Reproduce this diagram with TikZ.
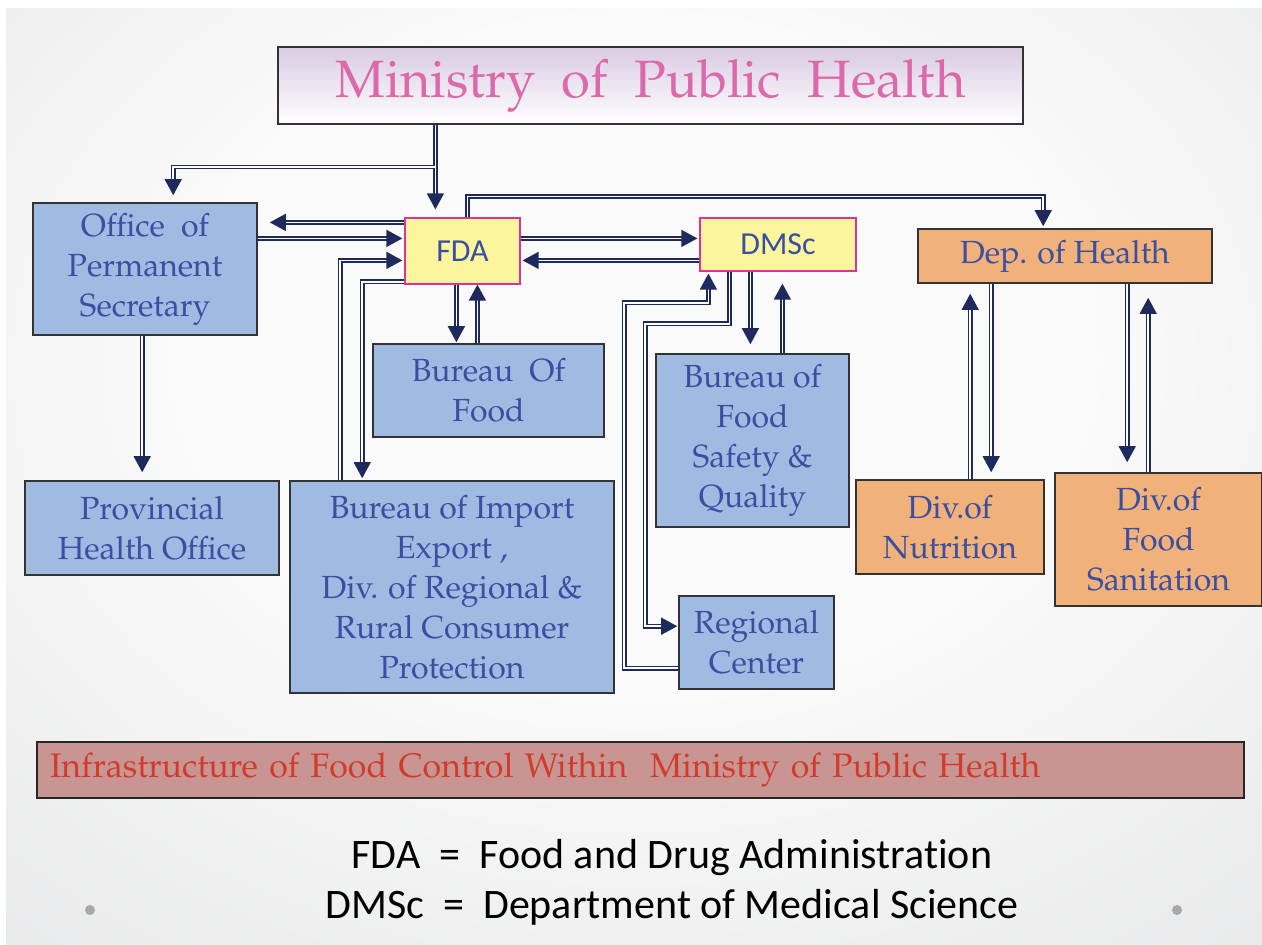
\documentclass[tikz,border=0pt]{standalone}
\usepackage[T1]{fontenc}
\usepackage{fontspec}
\newfontfamily\calib{Carlito}[Ligatures={NoCommon}]
\newcommand{\pal}{\fontencoding{T1}\fontfamily{ppl}\selectfont}
\usetikzlibrary{arrows.meta,calc}
\definecolor{navy}{HTML}{1E2A5E}
\definecolor{boxblue}{HTML}{A0BBE2}
\definecolor{txtblue}{HTML}{3A4EA2}
\definecolor{orangebox}{HTML}{F0B27A}
\definecolor{yelbox}{HTML}{FBF59D}
\definecolor{magbord}{HTML}{E0309A}
\definecolor{bannerfill}{HTML}{C89593}
\definecolor{bannertxt}{HTML}{D13B2B}
\definecolor{titlepink}{HTML}{DA6AAA}
\definecolor{titletop}{HTML}{DACBE3}
\definecolor{bordgray}{HTML}{333333}
\definecolor{bgin}{HTML}{FAFAFA}
\definecolor{bgout}{HTML}{D6D7D9}
\definecolor{dotgray}{HTML}{A8A8A8}
\pgfdeclareradialshading{bgshade}{\pgfpoint{0bp}{8bp}}{color(0bp)=(bgin); color(18bp)=(bgin); color(62bp)=(bgout); color(90bp)=(bgout)}
\tikzset{
  bluebox/.style={draw=bordgray, line width=0.8pt, fill=boxblue, text=txtblue,
    font=\pal\fontsize{16}{20}\selectfont, align=center, inner sep=0pt},
  orbox/.style={bluebox, fill=orangebox},
  yelbox/.style={draw=magbord, line width=0.6pt, fill=yelbox, text=txtblue,
    font=\calib\fontsize{16}{19}\selectfont, align=center, inner sep=0pt},
  dl/.style={draw=navy, double=white, line width=0.7pt, double distance=0.9pt,
    -{Triangle[length=8pt,width=8.5pt]}},
}
\begin{document}
\begin{tikzpicture}[x=0.5pt,y=-0.5pt]
\useasboundingbox (0,0) rectangle (1262,944);
\fill[white] (0,0) rectangle (1262,944);
\shade[shading=bgshade] (6,8) rectangle (1262,944);

% nodes
\node[draw=bordgray, line width=1pt, top color=titletop, bottom color=white,
  minimum width=372.5pt, minimum height=38.5pt, inner sep=0pt,
  text=titlepink, font=\pal\fontsize{26.3}{32}\selectfont] (min) at (650.5,85.5)
  {Ministry\ \ of\ \ Public\ \ Health};
\node[bluebox, minimum width=112pt, minimum height=66pt] (off) at (145,269)
  {Office\ \ of\\Permanent\\Secretary};
\node[yelbox, minimum width=57.5pt, minimum height=33pt] (fda) at (462.5,251) {FDA};
\node[yelbox, minimum width=78pt, minimum height=26.5pt] (dmsc) at (778,244.5) {DMSc};
\node[orbox, minimum width=147pt, minimum height=27pt] (dep) at (1065,256) {Dep. of Health};
\node[bluebox, minimum width=115.5pt, minimum height=46.5pt] (bfood) at (488.5,390.5)
  {Bureau\ \ Of\\Food};
\node[bluebox, minimum width=96.5pt, minimum height=86.5pt] (bfsq) at (752.5,440.5)
  {Bureau of\\Food\\Safety \&\\Quality};
\node[bluebox, minimum width=127pt, minimum height=47pt] (prov) at (152,528)
  {Provincial\\Health Office};
\node[bluebox, minimum width=162pt, minimum height=106pt] (bimp) at (452,587)
  {Bureau of Import\\Export ,\\Div. of Regional \&\\Rural Consumer\\Protection};
\node[bluebox, minimum width=77.5pt, minimum height=46.5pt] (rc) at (756.5,642.5)
  {Regional\\Center};
\node[orbox, minimum width=94pt, minimum height=47pt] (divnut) at (950,527)
  {Div.of\\Nutrition};
\node[orbox, minimum width=103.5pt, minimum height=66.5pt] (divsan) at (1158.5,539.5)
  {Div.of\\Food\\Sanitation};
\node[draw=black!85, line width=1pt, fill=bannerfill, text=bannertxt,
  minimum width=603.5pt, minimum height=28pt, inner xsep=6.5pt, inner ysep=0pt,
  text width=590.5pt, align=left, font=\pal\fontsize{17}{20}\selectfont] (banner) at (640.5,770)
  {Infrastructure of Food Control Within\ \ Ministry of Public Health};

\node[font=\calib\fontsize{21}{25}\selectfont, anchor=base] (leg1) at (672,868)
  {FDA\ \ =\ \ Food and Drug Administration};
\node[font=\calib\fontsize{21}{25}\selectfont, anchor=base] (leg2) at (672,918)
  {DMSc\ \ =\ \ Department of Medical Science};
\fill[dotgray] (90,910) circle[radius=5];
\fill[dotgray] (1177,910) circle[radius=5];

% connectors
\coordinate (c1) at ($(fda.north west)+(31,0)$);
\draw[dl, shorten >=4pt] (c1 |- min.south) -- (c1);
\coordinate (j1) at ($(c1 |- min.south)+(0,42)$);
\draw[dl, shorten >=3.5pt] (j1) -| ($(off.north west)+(141,0)$);
\coordinate (c3) at ($(fda.north west)+(0,5)$);
\draw[dl, shorten >=6pt] (c3) -- (c3 -| off.east);
\coordinate (c4) at ($(fda.north west)+(0,21)$);
\draw[dl, shorten >=1pt] (c4 -| off.east) -- (c4);
\coordinate (c5) at ($(fda.north west)+(0,43)$);
\draw[dl, shorten >=1pt] ($(bimp.north west)+(51,0)$) |- (c5);
\coordinate (c6) at ($(fda.south west)+(0,-3)$);
\draw[dl, shorten >=1pt] (c6) -| ($(bimp.north west)+(73,0)$);
\coordinate (c7) at ($(fda.south west)+(52,0)$);
\draw[dl, shorten >=0.5pt] (c7) -- (c7 |- bfood.north);
\coordinate (c8) at ($(fda.south west)+(73,0)$);
\draw[dl] (c8 |- bfood.north) -- (c8);
\coordinate (c9) at ($(fda.north west)+(63,0)$);
\draw[dl, shorten >=1pt] (c9) -- ++(0,-21) -| ($(dep.north west)+(126,0)$);
\coordinate (c10) at ($(fda.north east)+(0,21)$);
\draw[dl, shorten >=1pt] (c10) -- (c10 -| dmsc.west);
\coordinate (c11) at ($(dmsc.north west)+(0,43)$);
\draw[dl, shorten >=1pt] (c11) -- (c11 -| fda.east);
\coordinate (e12) at ($(dmsc.south west)+(9,0)$);
\draw[dl, shorten >=1pt] ($(rc.north west)+(0,73)$) -- ++(-54,0) |- ($(e12)+(0,31)$) -- (e12);
\coordinate (e13) at ($(rc.north west)+(0,31)$);
\draw[dl, shorten >=0.5pt] ($(dmsc.south west)+(30,0)$) -- ++(0,52) -| ($(e13)+(-33,0)$) -- (e13);
\coordinate (c14) at ($(dmsc.south west)+(51,0)$);
\draw[dl, shorten >=4.5pt] (c14) -- (c14 |- bfsq.north);
\coordinate (c15) at ($(dmsc.south west)+(83,0)$);
\draw[dl, shorten >=6pt] (c15 |- bfsq.north) -- (c15);
\coordinate (c16) at ($(off.south west)+(110,0)$);
\draw[dl, shorten >=4pt] (c16) -- (c16 |- prov.north);
\coordinate (c17) at ($(dep.south west)+(53,0)$);
\draw[dl, shorten >=5pt] (c17 |- divnut.north) -- (c17);
\coordinate (c18) at ($(dep.south west)+(74,0)$);
\draw[dl, shorten >=3.5pt] (c18) -- (c18 |- divnut.north);
\coordinate (c19) at ($(dep.south west)+(210,0)$);
\draw[dl, shorten >=5pt] (c19) -- (c19 |- divsan.north);
\coordinate (c20) at ($(dep.south west)+(231,0)$);
\draw[dl, shorten >=7pt] (c20 |- divsan.north) -- (c20);
\end{tikzpicture}
\end{document}
